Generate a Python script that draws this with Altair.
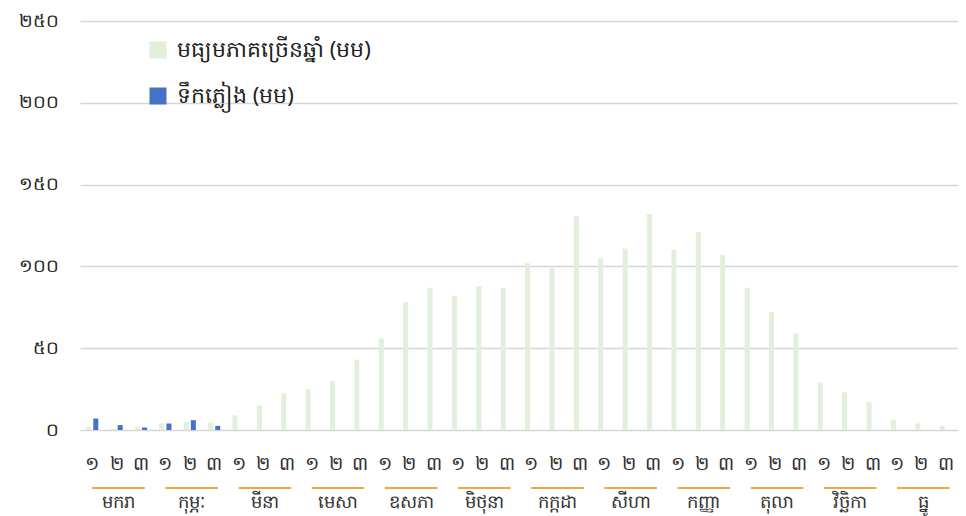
import altair as alt
import pandas as pd

months = ["មករា", "កុម្ភៈ", "មីនា", "មេសា", "ឧសភា", "មិថុនា",
          "កក្កដា", "សីហា", "កញ្ញា", "តុលា", "វិច្ឆិកា", "ធ្នូ"]
dekads = ["១", "២", "៣"]
series_names = ["មធ្យមភាគច្រើនឆ្នាំ (មម)", "ទឹកភ្លៀង (មម)"]
series_colors = ["#e2efda", "#4472c4"]

avg_values = [2, 1, 2, 4, 5, 4.5, 9, 15, 22.5, 25, 30, 43,
              56, 78, 87, 82, 88, 87, 102, 99, 131, 105, 111, 132,
              110, 121, 107, 87, 72, 59, 29, 23, 17, 6, 4, 2.5]
rain_values = [7, 3, 1.5, 4, 6, 2.5] + [None] * 30

y_ticks = [0, 50, 100, 150, 200, 250]
y_tick_labels = ["០", "៥០", "១០០", "១៥០", "២០០", "២៥០"]

FONT = "Noto Sans"
keys = [f"{m}|{d}" for m in months for d in dekads]

rows = []
for i, k in enumerate(keys):
    rows.append({"key": k, "series": series_names[0], "value": avg_values[i]})
    rows.append({"key": k, "series": series_names[1], "value": rain_values[i]})
bars_df = pd.DataFrame(rows)

month_df = pd.DataFrame({
    "month": months,
    "first": [f"{m}|{dekads[0]}" for m in months],
    "mid": [f"{m}|{dekads[1]}" for m in months],
    "last": [f"{m}|{dekads[2]}" for m in months],
})

y_expr = " : ".join(
    [f"datum.value == {v} ? '{l}'" for v, l in zip(y_ticks, y_tick_labels)]
) + " : ''"

x_scale = alt.Scale(domain=keys, paddingInner=0.47, paddingOuter=0.235)

bars = alt.Chart(bars_df).mark_bar().encode(
    x=alt.X("key:N", scale=x_scale, title=None,
            axis=alt.Axis(labelExpr="split(datum.value, '|')[1]", labelAngle=0,
                          ticks=False, tickSize=0, domain=False, labelPadding=24,
                          labelFontSize=19, labelColor="#333333", labelFont=FONT,
                          grid=False)),
    xOffset=alt.XOffset("series:N", sort=series_names,
                        scale=alt.Scale(domain=series_names, paddingInner=0.3, paddingOuter=0.05)),
    y=alt.Y("value:Q", scale=alt.Scale(domain=[0, 250]), title=None,
            axis=alt.Axis(values=y_ticks, labelExpr=y_expr, ticks=False, tickSize=0,
                          domain=False, labelPadding=22, labelFontSize=18,
                          labelColor="#222222", labelFont=FONT,
                          gridColor="#d6d6d6", gridWidth=1.4)),
    color=alt.Color("series:N",
                    scale=alt.Scale(domain=series_names, range=series_colors),
                    legend=alt.Legend(orient="none", legendX=67, legendY=18, title=None,
                                      symbolType="square", symbolSize=289,
                                      symbolStrokeWidth=0, labelFontSize=22,
                                      labelFont=FONT, labelColor="#222222",
                                      labelLimit=0, rowPadding=24, padding=0,
                                      labelOffset=8)),
)

lines = alt.Chart(month_df).mark_rule(color="#f5a742", strokeWidth=2).encode(
    x=alt.X("first:N", scale=x_scale, bandPosition=0.5),
    x2=alt.X2("last:N", bandPosition=0.8),
    y=alt.value(467),
)

labels = alt.Chart(month_df).mark_text(
    font=FONT, fontSize=18, color="#333333", baseline="middle"
).encode(
    x=alt.X("mid:N", scale=x_scale, bandPosition=0.65),
    y=alt.value(482),
    text="month:N",
)

chart = alt.layer(bars, lines, labels).properties(
    width=878, height=409,
    padding={"left": 72, "top": 13, "right": 0, "bottom": 86},
    autosize=alt.AutoSizeParams(type="none"),
).configure_view(stroke=None)

chart.save("out.html", embed_options={"renderer": "svg", "actions": False})
